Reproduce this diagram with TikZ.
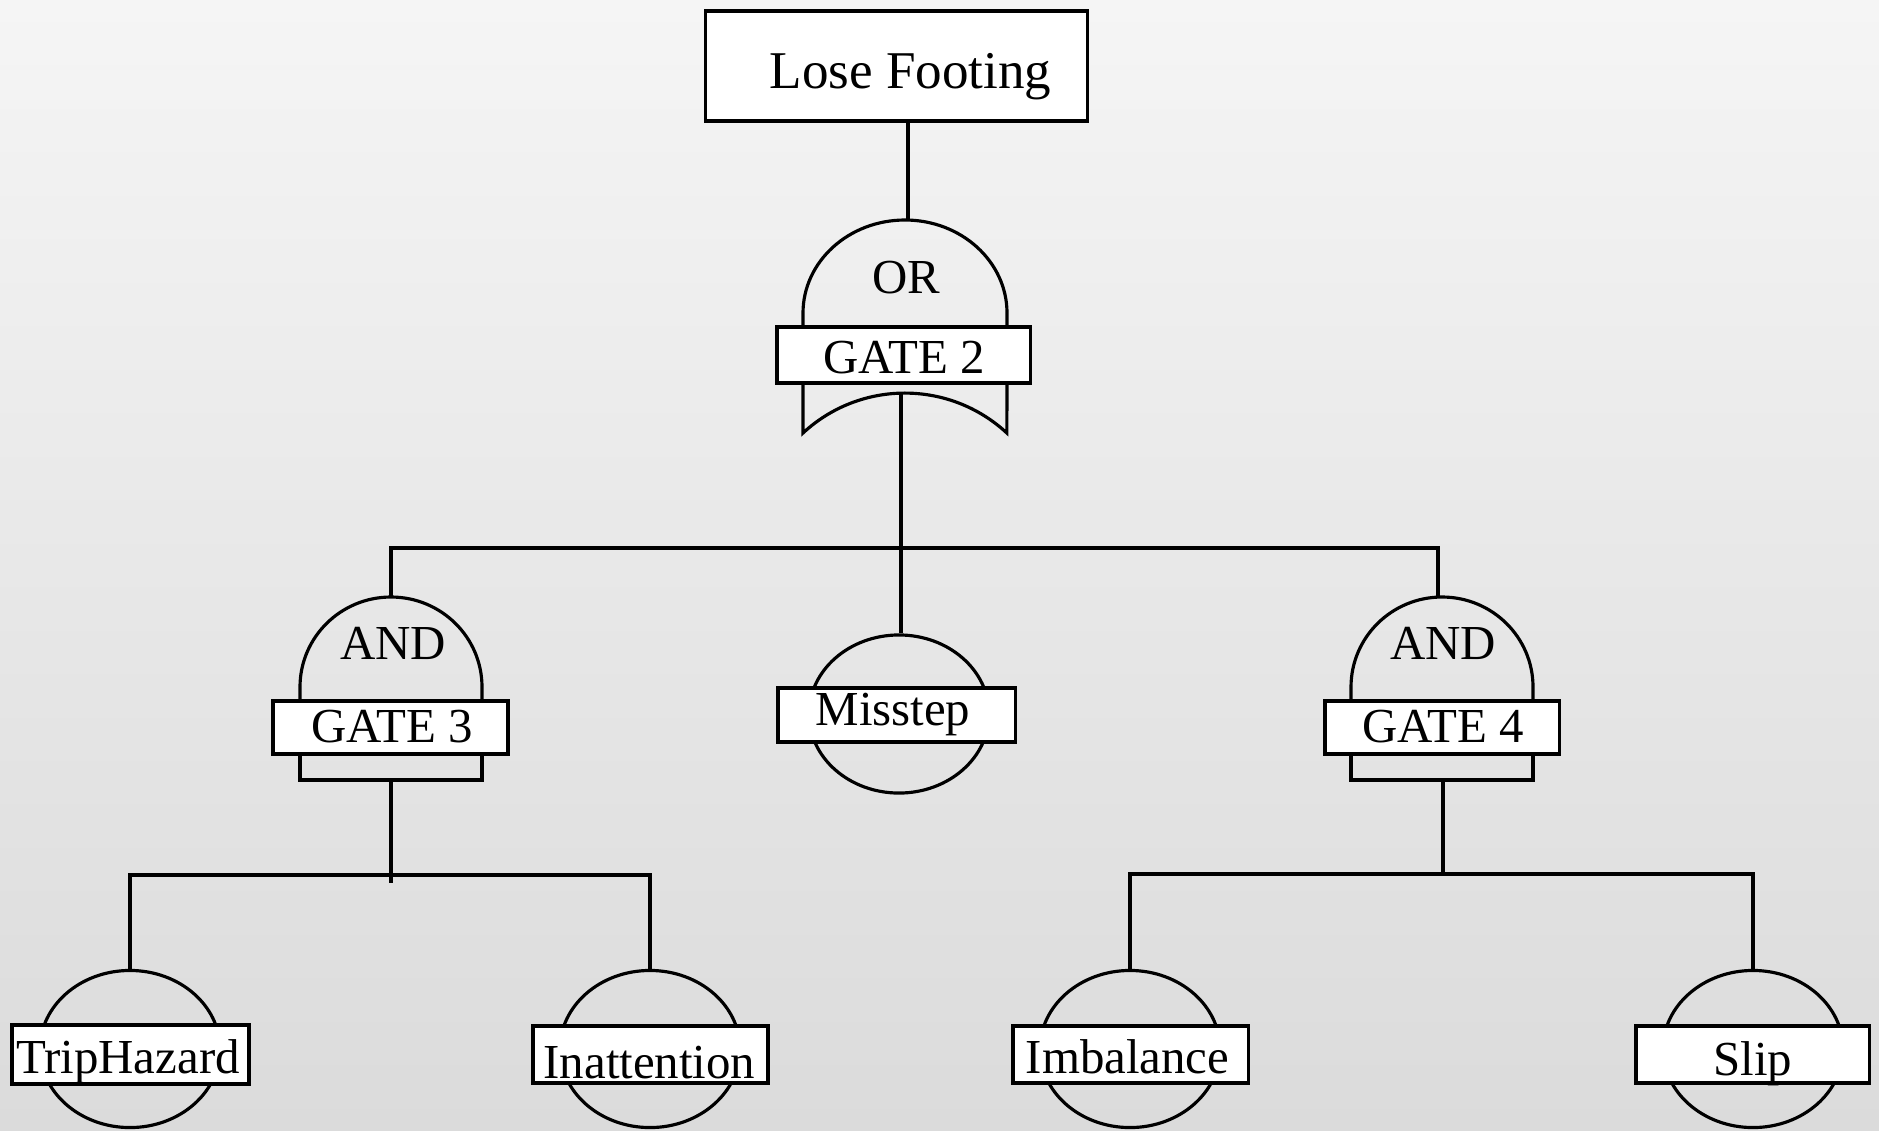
\documentclass[tikz,border=0pt]{standalone}
\usepackage{fontspec}
\setmainfont{Liberation Serif}
\usetikzlibrary{shapes.geometric}
\definecolor{bgtop}{HTML}{F5F5F5}
\definecolor{bgmid}{HTML}{E5E5E5}
\definecolor{bgbot}{HTML}{DBDBDB}
\begin{document}
\begin{tikzpicture}[x=0.01cm,y=0.01cm,line width=0.9pt,
  txt/.style={font=\fontsize{13.9pt}{16pt}\selectfont,inner sep=0pt,anchor=base},
  bigtxt/.style={font=\fontsize{15.1pt}{18pt}\selectfont,inner sep=0pt,anchor=base west},
  labelbox/.style={draw,fill=white,inner sep=0pt,minimum height=0.56cm},
  eventring/.style={draw,ellipse,inner sep=0pt,minimum width=1.80cm,minimum height=1.57cm},
  line join=miter]

% backdrop
\shade[top color=bgtop,middle color=bgmid,bottom color=bgbot] (0,0) rectangle (1879,-1130);
\useasboundingbox (0,0) rectangle (1879,-1130);

% ---- top event ----
\node[draw,fill=white,inner sep=0pt,minimum width=3.81cm,minimum height=1.10cm] (top) at (896.5,-66) {};
\node[bigtxt] (toptxt) at (768,-88) {Lose Footing};

% ---- OR gate (GATE 2) ----
\coordinate (g2in) at (908,-220);
\coordinate (g2out) at (901,-393);
\draw (803,-325) -- (803,-313) arc[start angle=180,end angle=0,x radius=102,y radius=93] -- (1007,-325);
\draw (803,-383) -- (803,-433) arc[start angle=132.8,end angle=47.2,radius=150] -- (1007,-383);
\node[labelbox,minimum width=2.53cm] (g2box) at (903.5,-355) {};
\node[txt] (g2type) at (906,-293) {OR};
\node[txt] (g2name) at (904,-373) {GATE 2};

% ---- AND gate (GATE 3) ----
\coordinate (g3in) at (391,-597);
\coordinate (g3out) at (391,-780);
\draw (300,-701) -- (300,-687) arc[start angle=180,end angle=0,x radius=91,y radius=90] -- (482,-701);
\draw (300,-754) -- (300,-780) -- (482,-780) -- (482,-754);
\node[labelbox,minimum width=2.35cm,minimum height=0.53cm] (g3box) at (390.5,-727.5) {};
\node[txt] (g3type) at (393,-659) {AND};
\node[txt] (g3name) at (392,-742) {GATE 3};

% ---- AND gate (GATE 4) ----
\coordinate (g4in) at (1438,-597);
\coordinate (g4out) at (1443,-780);
\draw (1351,-701) -- (1351,-687) arc[start angle=180,end angle=0,x radius=91,y radius=90] -- (1533,-701);
\draw (1351,-754) -- (1351,-780) -- (1533,-780) -- (1533,-754);
\node[labelbox,minimum width=2.34cm,minimum height=0.53cm] (g4box) at (1442,-727.5) {};
\node[txt] (g4type) at (1443,-659) {AND};
\node[txt] (g4name) at (1443,-742) {GATE 4};

% ---- basic events ----
\node[eventring,minimum height=1.58cm] (msE) at (899,-714) {};
\node[labelbox,minimum width=2.37cm,minimum height=0.54cm] (msBox) at (896.5,-715) {};
\node[txt] (msTxt) at (893,-725) {Misstep};

\node[eventring] (thE) at (130,-1049) {};
\node[labelbox,minimum width=2.37cm,minimum height=0.59cm] (thBox) at (130.5,-1054.5) {};
\node[txt] (thTxt) at (128,-1073) {TripHazard};

\node[eventring] (inE) at (650,-1049) {};
\node[labelbox,minimum width=2.35cm,minimum height=0.57cm] (inBox) at (650.5,-1054.5) {};
\node[txt] (inTxt) at (649.5,-1078) {Inattention};

\node[eventring] (imE) at (1130,-1049) {};
\node[labelbox,minimum width=2.35cm,minimum height=0.57cm] (imBox) at (1130.5,-1054.5) {};
\node[txt] (imTxt) at (1127.5,-1073) {Imbalance};

\node[eventring] (slE) at (1753,-1049) {};
\node[labelbox,minimum width=2.33cm,minimum height=0.57cm] (slBox) at (1752.5,-1054.5) {};
\node[txt] (slTxt) at (1753,-1075) {Slip};

% ---- connectors ----
\coordinate (busL) at (391,-548);
\coordinate (busR) at (1438,-548);
\coordinate (bus3) at (0,-875);
\coordinate (bus4) at (0,-874);

\draw (top.south -| g2in) -- (g2in);
\draw (g2out) -- (g2out |- msE.north);
\draw (g3in) -- (busL) -- (busR) -- (g4in);

\draw (g3out) -- ++(0,-103);
\draw (thE.north) -- (thE.north |- bus3) -- (inE.north |- bus3) -- (inE.north);

\draw (g4out) -- (g4out |- bus4);
\draw (imE.north) -- (imE.north |- bus4) -- (slE.north |- bus4) -- (slE.north);
\end{tikzpicture}
\end{document}
